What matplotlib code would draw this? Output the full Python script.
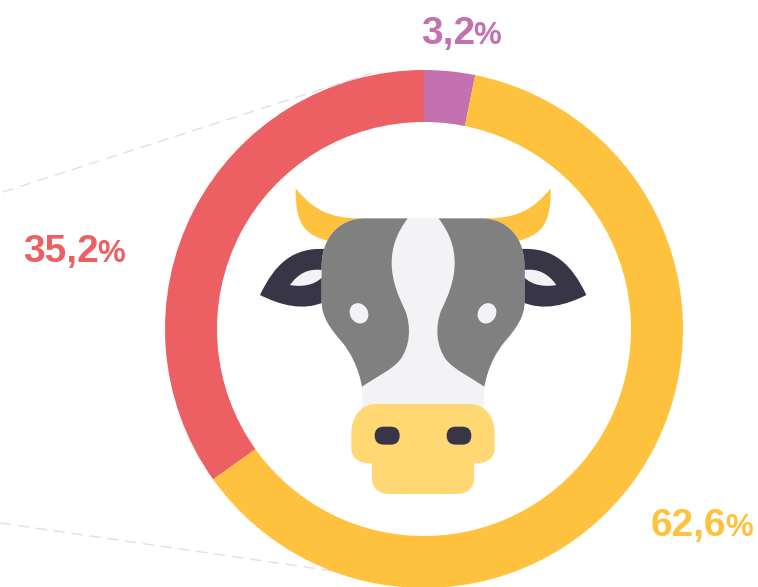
import matplotlib
matplotlib.use('Agg')
import matplotlib.pyplot as plt
from matplotlib.path import Path
from matplotlib.patches import PathPatch, Ellipse, FancyBboxPatch

shares = [3.2, 62.6, 35.2]
labels = ['3,2', '62,6', '35,2']
colors = ['#C372AF', '#FFC23F', '#EC6063']

W, H = 758, 587
GREY = '#808080'
LIGHT = '#F3F3F6'
DARK = '#383646'
SNOUT = '#FFD873'
MID = 519.5


# cow was measured on a crop of the picture, this maps crop coords to the axes
def cx(x):
    return 250 + x / 3


def cy(y):
    return H - (170 + y / 3)


def shape(start, segs, color, mirror=False, z=3):
    def pt(p):
        x = 2 * MID - p[0] if mirror else p[0]
        return (cx(x), cy(p[1]))
    verts = [pt(start)]
    codes = [Path.MOVETO]
    for s in segs:
        if len(s) == 2:
            verts.append(pt(s))
            codes.append(Path.LINETO)
        else:
            verts += [pt(s[:2]), pt(s[2:4]), pt(s[4:6])]
            codes += [Path.CURVE4] * 3
    verts.append(verts[0])
    codes.append(Path.CLOSEPOLY)
    ax.add_patch(PathPatch(Path(verts, codes), fc=color, ec='none', zorder=z))


def rbox(x0, y0, x1, y1, r, color, z):
    ax.add_patch(FancyBboxPatch((cx(x0), cy(y1)), (x1 - x0) / 3, (y1 - y0) / 3,
                                boxstyle='round,pad=0,rounding_size=%f' % (r / 3),
                                fc=color, ec='none', zorder=z))


fig = plt.figure(figsize=(W / 100, H / 100), dpi=100)
ax = fig.add_axes([0, 0, 1, 1])

# dashed guides go behind the ring
ax.plot([3, 372], [H - 192, H - 73], color='#E0E0E0', lw=1.0, dashes=(8, 5), zorder=0)
ax.plot([0, 333], [H - 523, H - 571], color='#E0E0E0', lw=1.0, dashes=(8, 5), zorder=0)

ax.pie(shares, colors=colors, startangle=90, counterclock=False,
       center=(424, H - 329), radius=259,
       wedgeprops={'width': 52, 'linewidth': 0}, frame=True)

ax.set_xlim(0, W)
ax.set_ylim(0, H)
ax.axis('off')

for m in [False, True]:
    # horn
    shape((137, 55), [(190, 120, 240, 145, 330, 145), (330, 200), (235, 213),
                      (170, 195, 135, 170, 137, 55)], colors[1], m, 3)
    # ear
    shape((225, 237), [(130, 232, 75, 280, 30, 375), (90, 405, 160, 425, 225, 395)], DARK, m, 3)
    shape((216, 300), [(175, 295, 145, 310, 120, 345), (155, 352, 195, 345, 216, 322)], LIGHT, m, 4)

# head
shape((345, 145), [(695, 145), (770, 145, 823, 200, 823, 290), (823, 395),
                   (815, 480, 760, 520, 730, 570), (715, 600, 703, 640, 703, 650),
                   (700, 730), (338, 730), (336, 650),
                   (325, 590, 300, 545, 275, 515), (240, 475, 215, 440, 215, 395),
                   (215, 290), (215, 200, 270, 145, 345, 145)], LIGHT, False, 5)

for m in [False, True]:
    shape((345, 145), [(473, 145), (440, 190, 425, 230, 425, 280),
                       (425, 330, 445, 380, 465, 420), (485, 470, 480, 530, 450, 570),
                       (425, 600, 380, 620, 336, 650), (325, 590, 300, 545, 275, 515),
                       (240, 475, 215, 440, 215, 395), (215, 290),
                       (215, 200, 270, 145, 345, 145)], GREY, m, 6)

for ex, ang in [(327, 30), (711, -30)]:
    ax.add_patch(Ellipse((cx(ex), cy(430)), 18, 21, angle=ang, fc=LIGHT, ec='none', zorder=7))

# snout
shape((366, 870), [(672, 870), (672, 925), (672, 955, 650, 972, 620, 972),
                   (418, 972), (388, 972, 366, 955, 366, 925)], SNOUT, False, 8)
shape((380, 702), [(658, 702), (705, 702, 734, 740, 734, 790), (734, 835),
                   (734, 865, 710, 880, 680, 880), (358, 880),
                   (328, 880, 304, 865, 304, 835), (304, 790),
                   (304, 740, 333, 702, 380, 702)], SNOUT, False, 9)
rbox(374, 770, 449, 824, 27, DARK, 10)
rbox(590, 770, 664, 824, 27, DARK, 10)

# labels, big number with a smaller percent sign
font = 'Liberation Sans'
label_pos = [(421, 473, 44), (651, 725, 536), (23, 97, 262)]
for txt, col, (x0, x1, base) in zip(labels, colors, label_pos):
    ax.text(x0, H - base, txt, color=col, fontsize=28, fontweight='bold',
            family=font, va='baseline', ha='left')
    ax.text(x1, H - base, '%', color=col, fontsize=22.5, fontweight='bold',
            family=font, va='baseline', ha='left')

fig.savefig('out.png', dpi=100)
